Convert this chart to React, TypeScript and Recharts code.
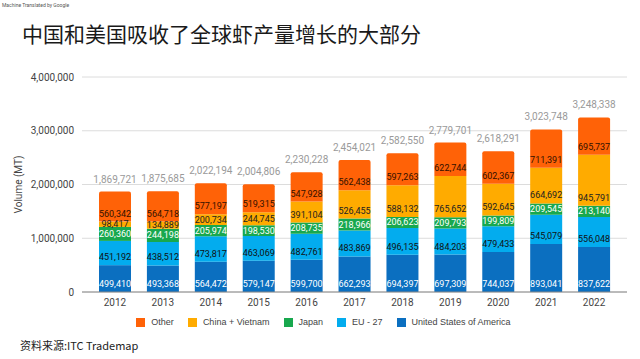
import { Bar, BarChart, CartesianGrid, LabelList, Legend, XAxis, YAxis } from "recharts";

const years = ["2012", "2013", "2014", "2015", "2016", "2017", "2018", "2019", "2020", "2021", "2022"];
const usa = [499410, 493368, 564472, 579147, 599700, 662293, 694397, 697309, 744037, 893041, 837622];
const eu27 = [451192, 438512, 473817, 463069, 482761, 483869, 496135, 484203, 479433, 545079, 556048];
const japan = [260360, 244198, 205974, 198530, 208735, 218966, 206623, 209793, 199809, 209545, 213140];
const chinaVietnam = [98417, 134889, 200734, 244745, 391104, 526455, 588132, 765652, 592645, 664692, 945791];
const other = [560342, 564718, 577197, 519315, 547928, 562438, 597263, 622744, 602367, 711391, 695737];
const totals = [1869721, 1875685, 2022194, 2004806, 2230228, 2454021, 2582550, 2779701, 2618291, 3023748, 3248338];
const yTicks = [0, 1000000, 2000000, 3000000, 4000000];

const series = [
  { key: "usa", name: "United States of America", color: "#0b6fc0", label: "#ffffff" },
  { key: "eu27", name: "EU - 27", color: "#03acee", label: "#111111" },
  { key: "japan", name: "Japan", color: "#18a84e", label: "#ffffff" },
  { key: "chinaVietnam", name: "China + Vietnam", color: "#ffab00", label: "#222222" },
  { key: "other", name: "Other", color: "#ff6207", label: "#331100" },
];
const legendOrder = ["other", "chinaVietnam", "japan", "eu27", "usa"];

const data = years.map((year, i) => ({
  year,
  usa: usa[i],
  eu27: eu27[i],
  japan: japan[i],
  chinaVietnam: chinaVietnam[i],
  other: other[i],
  total: totals[i],
}));

const fmt = (v: number) => v.toLocaleString("en-US");
const font = "Roboto, Arial, sans-serif";

// label sits near the bottom of its segment; thin segments get it centred
function segmentLabel(fill: string) {
  return (props: any) => {
    const { x, y, width, height, value } = props;
    const h = Number(height);
    const cy = h < 14 ? Number(y) + h / 2 : Number(y) + h - 8;
    return (
      <text
        x={Number(x) + Number(width) / 2}
        y={cy}
        textAnchor="middle"
        dominantBaseline="central"
        fontSize={9}
        fill={fill}
        fontFamily={font}
      >
        {fmt(Number(value))}
      </text>
    );
  };
}

export default function App() {
  return (
    <div style={{ position: "absolute", left: 0, top: 0, width: 640, height: 359, background: "#fff", fontFamily: font }}>
      <div style={{ position: "absolute", left: 2, top: 2, fontSize: 5, color: "#555" }}>Machine Translated by Google</div>
      <div
        style={{
          position: "absolute",
          left: 22,
          top: 18,
          fontSize: 21,
          color: "#1a1a1a",
          fontFamily: "'Noto Sans CJK SC', sans-serif",
          lineHeight: "30px",
        }}
      >
        中国和美国吸收了全球虾产量增长的大部分
      </div>
      <BarChart
        width={640}
        height={359}
        data={data}
        margin={{ top: 77, right: 13, left: 20, bottom: 27 }}
        style={{ position: "absolute", left: 0, top: 0 }}
      >
        <CartesianGrid vertical={false} stroke="#dcdcdc" />
        <XAxis
          dataKey="year"
          height={20}
          tickLine={false}
          axisLine={{ stroke: "#888" }}
          tick={{ fontSize: 10, fill: "#444", fontFamily: font }}
          tickMargin={1}
          padding={{ left: 9, right: 9 }}
        />
        <YAxis
          width={62}
          domain={[0, 4000000]}
          ticks={yTicks}
          tickFormatter={fmt}
          tickLine={false}
          axisLine={false}
          tick={{ fontSize: 10, fill: "#444", fontFamily: font }}
          label={{
            value: "Volume (MT)",
            angle: -90,
            position: "insideLeft",
            offset: -2,
            style: { fontSize: 10, fill: "#444", fontFamily: font, textAnchor: "middle" },
          }}
        />
        <Legend
          verticalAlign="bottom"
          height={20}
          content={({ payload }) => {
            const items = [...(payload ?? [])].sort(
              (a, b) => legendOrder.indexOf(String(a.dataKey)) - legendOrder.indexOf(String(b.dataKey))
            );
            return (
              <div
                style={{
                  display: "flex",
                  justifyContent: "center",
                  gap: 14,
                  fontSize: 9,
                  color: "#444",
                  marginTop: 5,
                  fontFamily: "Arial, 'Liberation Sans', sans-serif",
                }}
              >
                {items.map((it) => (
                  <span key={String(it.dataKey)} style={{ display: "flex", alignItems: "center", gap: 6 }}>
                    <span style={{ width: 9, height: 9, background: it.color, display: "inline-block" }} />
                    {it.value}
                  </span>
                ))}
              </div>
            );
          }}
        />
        {series.map((s) => (
          <Bar
            key={s.key}
            dataKey={s.key}
            name={s.name}
            stackId="a"
            fill={s.color}
            barSize={32}
            radius={s.key === "other" ? [2, 2, 0, 0] : 0}
            isAnimationActive={false}
          >
            <LabelList dataKey={s.key} content={segmentLabel(s.label)} />
            {s.key === "other" && (
              <LabelList
                dataKey="total"
                position="top"
                offset={9}
                formatter={(v: any) => fmt(Number(v))}
                style={{ fontSize: 10, fill: "#9a9a9a", fontFamily: font }}
              />
            )}
          </Bar>
        ))}
      </BarChart>
      <div style={{ position: "absolute", left: 20, top: 337, fontSize: 11, color: "#222", fontFamily: "'Noto Sans CJK SC', sans-serif" }}>
        资料来源:ITC Trademap
      </div>
    </div>
  );
}
